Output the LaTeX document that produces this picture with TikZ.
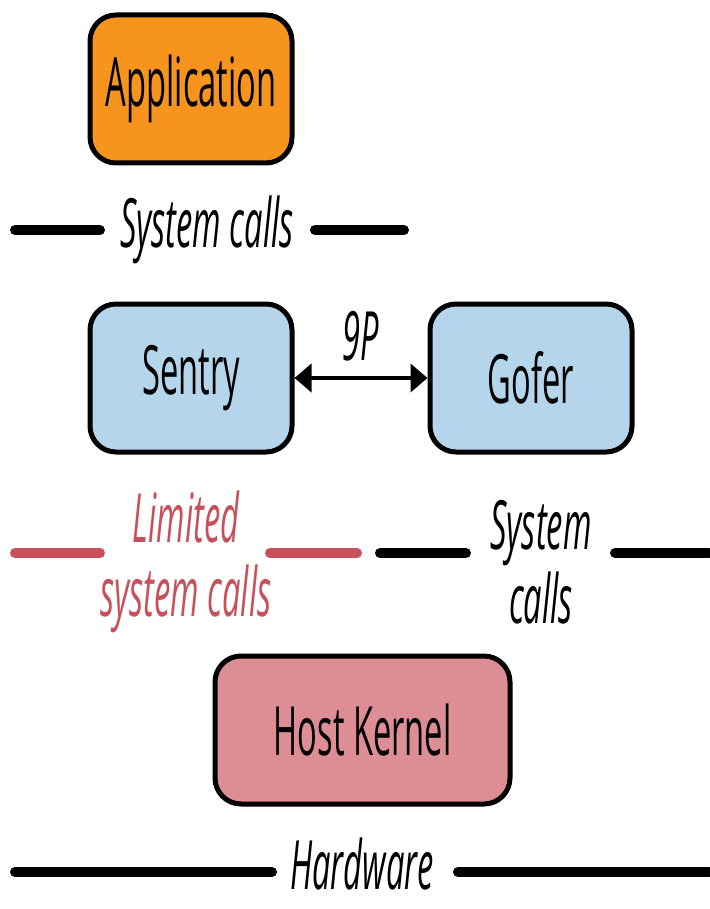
\documentclass[tikz,border=0pt]{standalone}
\usepackage{fontspec}
\setmainfont{Open Sans}[FakeStretch=0.48]
\usetikzlibrary{arrows.meta}
\definecolor{apporange}{HTML}{F7941D}
\definecolor{boxblue}{HTML}{B4D5EB}
\definecolor{kernpink}{HTML}{DD8E94}
\definecolor{limred}{HTML}{C8505A}
\tikzset{
  box/.style={draw=black, line width=5pt, rounded corners=26pt, minimum width=202pt, minimum height=148pt, inner sep=0pt, font=\fontsize{68}{74}\selectfont},
  lbl/.style={inner sep=0pt, font=\fontsize{68}{74}\selectfont\itshape},
  lbltwo/.style={lbl, align=center},
  bar/.style={line width=10pt, line cap=round, black},
  redbar/.style={bar, limred},
}
\begin{document}
\begin{tikzpicture}[x=1pt,y=-1pt]
\useasboundingbox (0,0) rectangle (709,909);
% boxes
\node[box, fill=apporange] (app) at (191,89) {Application};
\node[box, fill=boxblue] (sentry) at (191,378) {Sentry};
\node[box, fill=boxblue] (gofer) at (531,378) {Gofer};
\node[box, fill=kernpink, minimum width=295pt] (host) at (362.5,730) {Host Kernel};
% 9P arrow
\draw[line width=4.5pt, {Triangle[length=17pt,width=28pt]}-{Triangle[length=17pt,width=28pt]}] (sentry.east) -- (gofer.west);
\node[lbl] (ninep) at (361,336) {9P};
% system calls top
\node[lbl] (sc1) at (207,230) {System calls};
\coordinate (a1) at (15,230); \coordinate (a2) at (100,230);
\coordinate (a3) at (315,230); \coordinate (a4) at (404,230);
\draw[bar] (a1) -- (a2);
\draw[bar] (a3) -- (a4);
% limited system calls
\node[lbltwo, text=limred] (lim) at (186,562) {Limited\\system calls};
\coordinate (b1) at (15,553); \coordinate (b2) at (100,553);
\coordinate (b3) at (270,553); \coordinate (b4) at (357,553);
\draw[redbar] (b1) -- (b2);
\draw[redbar] (b3) -- (b4);
% system calls right
\node[lbltwo] (sc2) at (541,562) {System\\calls};
\coordinate (c1) at (380,553); \coordinate (c2) at (466,553);
\coordinate (c3) at (615,553); \coordinate (c4) at (709,553);
\draw[bar] (c1) -- (c2);
\draw[bar] (c3) -- (c4);
% hardware
\node[lbl, anchor=base] (hw) at (362,889) {Hardware};
\coordinate (d1) at (15,872); \coordinate (d2) at (272,872);
\coordinate (d3) at (458,872); \coordinate (d4) at (709,872);
\draw[bar] (d1) -- (d2);
\draw[bar] (d3) -- (d4);
\end{tikzpicture}
\end{document}
